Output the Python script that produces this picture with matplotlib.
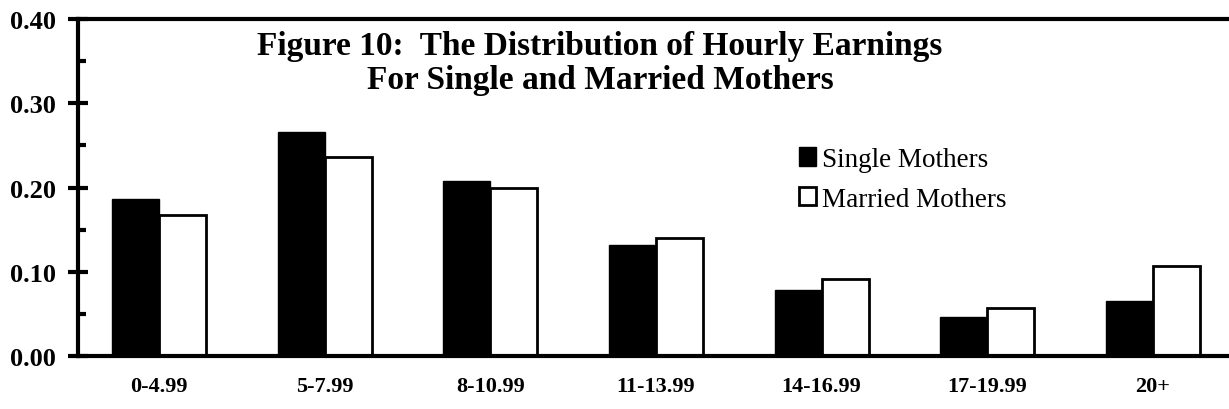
import numpy as np
import matplotlib
matplotlib.use("Agg")
import matplotlib.pyplot as plt
from matplotlib.ticker import MultipleLocator

# hourly earnings brackets and shares
categories = ["0-4.99", "5-7.99", "8-10.99", "11-13.99", "14-16.99", "17-19.99", "20+"]
single_mothers = [0.187, 0.266, 0.208, 0.132, 0.079, 0.047, 0.066]
married_mothers = [0.167, 0.236, 0.200, 0.140, 0.091, 0.057, 0.107]

plt.rcParams['font.family'] = ['Liberation Serif', 'DejaVu Serif']

fig = plt.figure(figsize=(12.29, 4.10), dpi=100)
ax = fig.add_axes([0.0635, 0.129, 0.9365, 0.822])

x = np.arange(len(categories))
w = 0.284
ax.bar(x, single_mothers, width=-w, align='edge', color='black',
       edgecolor='black', linewidth=1, label='Single Mothers')
ax.bar(x, married_mothers, width=w, align='edge', color='white',
       edgecolor='black', linewidth=2, label='Married Mothers')

ax.set_xlim(-0.49, 6.46)
ax.set_ylim(0, 0.40)

# spines: heavy left, bottom and top, no right
for side in ['left', 'bottom', 'top']:
    ax.spines[side].set_linewidth(3)
ax.spines['right'].set_visible(False)

ax.yaxis.set_major_locator(MultipleLocator(0.10))
ax.yaxis.set_minor_locator(MultipleLocator(0.05))
ax.tick_params(axis='y', which='major', direction='inout', length=14, width=3,
               labelsize=19, pad=9)
ax.tick_params(axis='y', which='minor', direction='in', length=6, width=3)
ax.set_yticklabels([f"{v:.2f}" for v in ax.get_yticks()], fontweight='bold')

ax.set_xticks(x)
ax.set_xticklabels(categories, fontsize=16, fontweight='bold')
ax.tick_params(axis='x', length=0, pad=14)

ax.text(0.4535, 0.968, "Figure 10:  The Distribution of Hourly Earnings\nFor Single and Married Mothers",
        transform=ax.transAxes, ha='center', va='top', fontsize=24,
        fontweight='bold', linespacing=1.15)

ax.legend(loc='upper left', bbox_to_anchor=(0.639, 0.672), bbox_transform=fig.transFigure,
          frameon=False, fontsize=19.5, handlelength=0.65, handleheight=0.65,
          handletextpad=0.2, borderpad=0, labelspacing=0.55)

fig.savefig("out.png", dpi=100)
